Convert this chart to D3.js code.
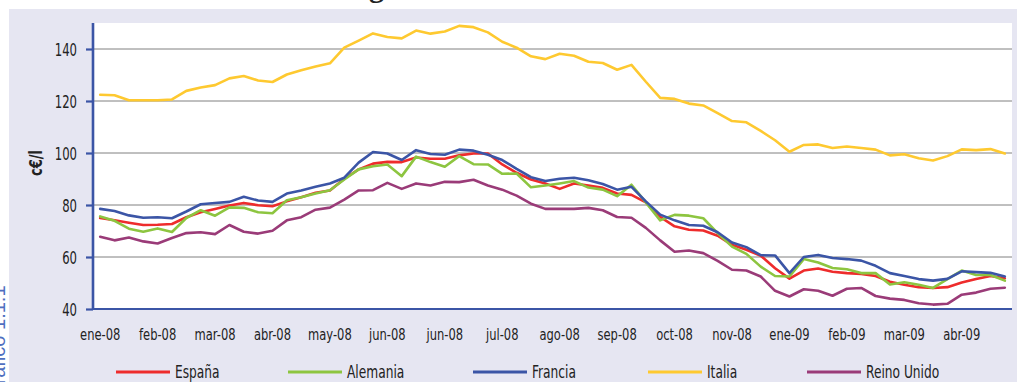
<!DOCTYPE html>
<html>
<head>
<meta charset="utf-8">
<script src="https://cdn.jsdelivr.net/npm/d3@7"></script>
<style>
  html, body { margin: 0; padding: 0; background: #ffffff; }
  svg { display: block; }
</style>
</head>
<body>
<svg id="chart" width="1017" height="382"></svg>
<script>
// Weekly fuel prices (c€/l), January 2008 to April 2009
const tickLabels = ["ene-08", "feb-08", "mar-08", "abr-08", "may-08", "jun-08", "jun-08", "jul-08",
                    "ago-08", "sep-08", "oct-08", "nov-08", "ene-09", "feb-09", "mar-09", "abr-09"];
const weeksPerTick = 4;
const weekCount = 64;

const seriesNames = ["España", "Alemania", "Francia", "Italia", "Reino Unido"];

const espana = [75.0, 74.1, 73.2, 72.3, 72.4, 72.7, 75.3, 77.2, 78.5, 79.8, 80.8, 79.9, 79.5, 81.4, 83.0, 84.7,
                85.6, 90.1, 93.7, 95.9, 96.6, 96.5, 98.3, 97.8, 97.8, 99.1, 99.8, 99.8, 95.6, 92.4, 89.8, 88.3,
                86.2, 88.3, 87.5, 86.6, 84.4, 83.9, 81.0, 75.4, 71.8, 70.5, 70.2, 68.2, 64.7, 62.8, 60.5, 55.7,
                51.7, 54.8, 55.6, 54.3, 53.8, 53.5, 52.7, 50.5, 49.3, 48.4, 48.1, 48.4, 50.2, 51.5, 52.7, 51.8];

const alemania = [75.6, 73.9, 70.9, 69.7, 71.0, 69.6, 75.0, 78.0, 75.9, 79.1, 78.9, 77.2, 76.8, 81.8, 83.0, 84.4,
                  85.7, 89.8, 93.7, 94.9, 95.6, 91.1, 98.6, 96.5, 94.7, 98.8, 95.7, 95.6, 92.0, 92.1, 86.8, 87.5,
                  88.3, 89.2, 86.7, 85.9, 83.4, 87.8, 81.0, 74.1, 76.2, 75.9, 74.9, 69.2, 64.0, 61.2, 56.3, 52.7,
                  52.5, 59.2, 57.9, 55.8, 55.3, 53.8, 53.8, 49.4, 50.3, 49.3, 48.1, 51.5, 54.8, 53.1, 53.1, 50.9];

const francia = [78.5, 77.7, 76.0, 75.1, 75.3, 74.9, 77.5, 80.3, 80.8, 81.2, 83.2, 81.7, 81.2, 84.4, 85.6, 87.0,
                 88.3, 90.5, 96.3, 100.4, 99.8, 97.3, 101.1, 99.6, 99.3, 101.3, 100.9, 99.3, 97.3, 93.9, 90.7, 89.2,
                 90.1, 90.5, 89.5, 88.1, 85.9, 87.0, 81.4, 76.3, 74.1, 72.3, 72.0, 69.5, 65.6, 63.8, 60.7, 60.6,
                 53.8, 60.0, 60.8, 59.6, 59.2, 58.6, 56.6, 53.8, 52.7, 51.5, 50.9, 51.6, 54.5, 54.2, 53.9, 52.5];

const italia = [122.4, 122.2, 120.3, 120.3, 120.3, 120.6, 123.9, 125.2, 126.1, 128.7, 129.6, 127.9, 127.3, 130.2, 131.8, 133.3,
                134.5, 140.5, 143.2, 146.0, 144.6, 144.1, 147.1, 145.9, 146.7, 148.9, 148.4, 146.4, 142.8, 140.5, 137.2, 136.1,
                138.2, 137.4, 135.1, 134.6, 132.0, 133.9, 127.4, 121.2, 120.8, 119.0, 118.3, 115.3, 112.3, 111.8, 108.5, 104.9,
                100.5, 103.1, 103.3, 101.9, 102.5, 101.9, 101.3, 99.1, 99.5, 98.0, 97.1, 98.8, 101.4, 101.1, 101.5, 99.8];

const reinoUnido = [67.8, 66.4, 67.5, 66.0, 65.2, 67.3, 69.2, 69.5, 68.8, 72.3, 69.7, 69.0, 70.1, 74.1, 75.3, 78.2,
                    79.0, 82.1, 85.6, 85.7, 88.5, 86.2, 88.3, 87.5, 88.9, 88.8, 89.7, 87.5, 85.9, 83.6, 80.5, 78.5,
                    78.5, 78.5, 78.9, 78.0, 75.4, 75.1, 71.2, 66.4, 62.0, 62.5, 61.5, 58.5, 55.1, 54.8, 52.5, 47.0,
                    44.8, 47.6, 47.0, 45.1, 47.8, 48.1, 45.0, 44.0, 43.5, 42.2, 41.7, 42.0, 45.5, 46.3, 47.8, 48.2];

const yTicks = [40, 60, 80, 100, 120, 140];
const yDomain = [40, 150];
const yTitle = "c€/l";

const seriesValues = [espana, alemania, francia, italia, reinoUnido];
const seriesColors = ["#ee2c2c", "#8dc540", "#3b55a6", "#fec930", "#9a3b78"];

// ---- layout ----
const W = 1017, H = 382;
const plot = { left: 93, right: 1012, top: 23, bottom: 309 };
const frameColor = "#e6e6f2";
const axisColor = "#3b55a6";
const gridColor = "#808080";
const legendStarts = [116, 288, 473, 648, 807];
const legendLine = 54;
const legendY = 372;
const narrow = "'Liberation Sans Narrow', 'DejaVu Sans Condensed', 'Liberation Sans', sans-serif";

const svg = d3.select("#chart");

// outer frame
svg.append("rect").attr("x", 9).attr("y", 9).attr("width", W - 9).attr("height", H - 9)
  .attr("fill", frameColor);
svg.append("rect").attr("x", plot.left).attr("y", plot.top)
  .attr("width", plot.right - plot.left).attr("height", plot.bottom - plot.top)
  .attr("fill", "#ffffff");

// clipped title above the frame and vertical caption at the left edge
svg.append("text").attr("x", 369).attr("y", -3)
  .attr("font-family", "'Liberation Serif', serif").attr("font-weight", "bold")
  .attr("font-size", 30).attr("fill", "#222").text("g");
svg.append("text").attr("transform", "translate(5,400) rotate(-90)")
  .attr("font-family", "'Liberation Sans', sans-serif").attr("font-size", 20)
  .attr("fill", "#4f6fc0").text("Gráfico 1.1.1");

const x = d3.scalePoint().domain(d3.range(weekCount)).range([plot.left, plot.right]).padding(0.5);
const y = d3.scaleLinear().domain(yDomain).range([plot.bottom, plot.top]);

function label(g, tx, ty, txt, opt) {
  const t = g.append("text")
    .attr("transform", `translate(${tx},${ty})${opt.rotate ? ` rotate(${opt.rotate})` : ""} scale(${opt.sx},1)`)
    .attr("text-anchor", opt.anchor || "start")
    .attr("font-family", narrow)
    .attr("font-size", opt.size)
    .attr("font-weight", opt.weight || "normal")
    .attr("fill", opt.fill || "#222")
    .text(txt);
  return t;
}

// gridlines
svg.append("g").selectAll("line").data(yTicks.filter(v => v > yDomain[0])).join("line")
  .attr("x1", plot.left).attr("x2", plot.right)
  .attr("y1", d => y(d)).attr("y2", d => y(d))
  .attr("stroke", gridColor).attr("stroke-width", 1);

// y axis
const yAxis = svg.append("g").attr("transform", `translate(${plot.left},0)`)
  .call(d3.axisLeft(y).tickValues(yTicks).tickSize(7).tickFormat(""));
yAxis.select(".domain").remove();
yAxis.selectAll(".tick line").attr("stroke", axisColor).attr("stroke-width", 2.2);
const yLab = svg.append("g");
yTicks.forEach(v => label(yLab, 77, y(v) + 6.5, String(v), { size: 18, sx: 0.72, anchor: "end" }));

// x axis tick labels (every fourth week)
const xLab = svg.append("g");
tickLabels.forEach((t, i) => label(xLab, x(i * weeksPerTick), 340, t, { size: 16, sx: 0.8, anchor: "middle" }));

// y title
label(svg, 42, 163, yTitle, { size: 18, sx: 0.8, anchor: "middle", weight: "bold", rotate: -90 });

// series lines
const line = d3.line().x((d, i) => x(i)).y(d => y(d));
svg.append("g").selectAll("path").data(seriesValues).join("path")
  .attr("d", line)
  .attr("fill", "none")
  .attr("stroke", (d, i) => seriesColors[i])
  .attr("stroke-width", 2.6)
  .attr("stroke-linejoin", "round")
  .attr("stroke-linecap", "round");

// axis lines
svg.append("line").attr("x1", plot.left).attr("x2", plot.left)
  .attr("y1", plot.top).attr("y2", plot.bottom + 1)
  .attr("stroke", axisColor).attr("stroke-width", 2.6);
svg.append("line").attr("x1", plot.left).attr("x2", plot.right)
  .attr("y1", plot.bottom).attr("y2", plot.bottom)
  .attr("stroke", axisColor).attr("stroke-width", 2.2);

// legend
const leg = svg.append("g");
seriesNames.forEach((name, i) => {
  leg.append("line").attr("x1", legendStarts[i]).attr("x2", legendStarts[i] + legendLine)
    .attr("y1", legendY).attr("y2", legendY)
    .attr("stroke", seriesColors[i]).attr("stroke-width", 3);
  label(leg, legendStarts[i] + legendLine + 5, 378, name, { size: 17, sx: 0.8 });
});
</script>
</body>
</html>
